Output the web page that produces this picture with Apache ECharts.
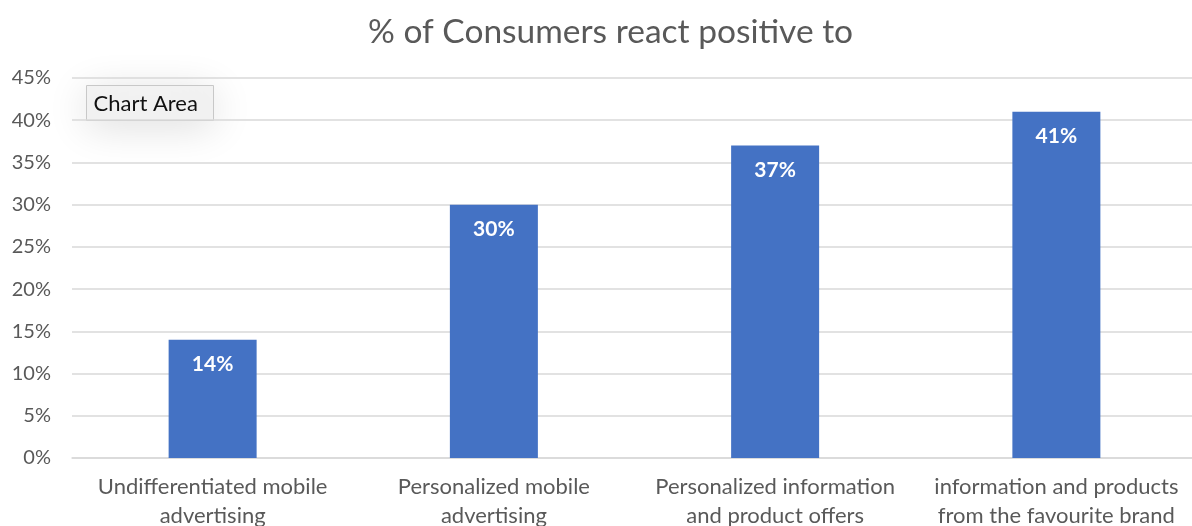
<!DOCTYPE html>
<html><head><meta charset="utf-8">
<script src="https://cdn.jsdelivr.net/npm/echarts@6/dist/echarts.min.js"></script>
<style>html,body{margin:0;padding:0;background:#fff}#c{width:1192px;height:526px}</style>
</head><body><div id="c"></div>
<script>
const categories = ['Undifferentiated mobile\nadvertising','Personalized mobile\nadvertising','Personalized information\nand product offers','information and products\nfrom the favourite brand'];
const values = [14, 30, 37, 41];
const yTicks = [0,5,10,15,20,25,30,35,40,45];
const FONT = 'Lato';
const chart = echarts.init(document.getElementById('c'));
chart.setOption({
  animation:false,
  title:{text:'% of Consumers react positive to',left:363,top:10,textStyle:{fontFamily:FONT,fontSize:33.5,fontWeight:'normal',color:'#595959'}},
  grid:{left:72,right:-5,top:78,bottom:68,containLabel:false,outerBoundsMode:'none'},
  xAxis:{type:'category',data:categories,axisTick:{show:false},
    axisLine:{lineStyle:{color:'#d9d9d9',width:1.5}},
    axisLabel:{fontFamily:FONT,fontSize:22,color:'#595959',lineHeight:29,margin:14,interval:0}},
  yAxis:{type:'value',min:yTicks[0],max:yTicks[yTicks.length-1],interval:5,
    axisLabel:{fontFamily:FONT,fontSize:20,color:'#595959',formatter:v=>v+'%',margin:21},
    splitLine:{lineStyle:{color:'#d9d9d9',width:1.5}},axisLine:{show:false},axisTick:{show:false}},
  series:[{type:'bar',data:values,barWidth:88,itemStyle:{color:'#4472C4'},
    label:{show:true,position:'insideTop',distance:14,formatter:p=>p.value+'%',fontFamily:FONT,fontSize:21,fontWeight:'bold',color:'#fff'}}],
  graphic:[{type:'group',left:86,top:85,children:[
    {type:'rect',shape:{x:0,y:0,width:127,height:35},style:{fill:'#f2f2f2',stroke:'#c8c8c8',lineWidth:1,shadowBlur:40,shadowColor:'rgba(0,0,0,0.14)',shadowOffsetY:6}},
    {type:'text',style:{x:7,y:18,text:'Chart Area',fontFamily:'Lato',fontSize:22,fill:'#111',verticalAlign:'middle'}}
  ]}]
});
</script></body></html>
